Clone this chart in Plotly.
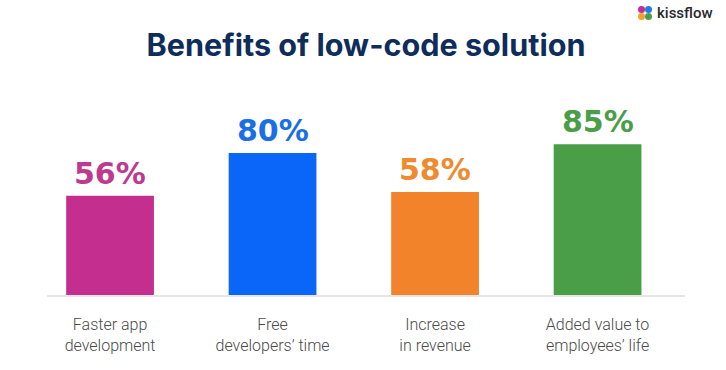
import plotly.graph_objects as go

categories = ["Faster app<br>development", "Free<br>developers’ time", "Increase<br>in revenue", "Added value to<br>employees’ life"]
values = [56, 80, 58, 85]
bar_colors = ["#C42E8F", "#0A66F8", "#F3832A", "#4B9E48"]
text_colors = ["#BE3A8F", "#1A6FE8", "#F08A2E", "#4A9E48"]
title = "Benefits of low-code solution"

W, H = 726, 370
fig = go.Figure()
fig.add_trace(go.Bar(
    x=list(range(len(categories))), y=values, marker_color=bar_colors,
    width=0.54, marker_line_width=0, hoverinfo="skip",
))

for i, (v, c) in enumerate(zip(values, text_colors)):
    fig.add_annotation(x=i, y=v, text=f"{v}%", showarrow=False, yanchor="bottom",
                       yshift=3, font=dict(family="DejaVu Sans", size=30, color=c, weight="bold"))

fig.update_layout(
    width=W, height=H, paper_bgcolor="white", plot_bgcolor="white",
    margin=dict(l=47, r=41, t=100, b=75),
    showlegend=False,
    title=dict(text=title, x=0.5, xref="paper", xanchor="center", y=0.878, yanchor="middle",
               font=dict(family="Inter", size=30.6, color="#0E2D5B", weight="bold")),
    xaxis=dict(tickvals=list(range(len(categories))), ticktext=categories, range=[-0.388, 3.538],
               showgrid=False, zeroline=False, showline=True, linecolor="#E6E6E6", linewidth=1.5,
               ticks="", ticklabelstandoff=14, fixedrange=True,
               tickfont=dict(family="Roboto", size=16, color="#4A4A4A", weight=300)),
    yaxis=dict(range=[0, 109.9], visible=False, showgrid=False, zeroline=False, fixedrange=True),
)

# logo
fig.add_annotation(xref="paper", yref="paper", x=(655 - 47) / 638, y=(295 - 13) / 195,
                   xanchor="left", yanchor="middle", text="kissflow", showarrow=False,
                   font=dict(family="Roboto", size=15, color="#2A2A2A", weight=500))
petals = [((638, 6), (645, 13), "#C42E8F"), ((645, 6), (652, 13), "#1E7BF0"),
          ((638, 13), (645, 20), "#F3A12A"), ((645, 13), (652, 20), "#4B9E48")]
for (x0, y0), (x1, y1), col in petals:
    fig.add_shape(type="circle", xref="paper", yref="paper",
                  x0=(x0 - 47) / 638, x1=(x1 - 47) / 638,
                  y0=(295 - y1) / 195, y1=(295 - y0) / 195,
                  fillcolor=col, line_width=0, layer="above")

fig.write_html("out.html", config={"displayModeBar": False, "staticPlot": False},
               post_script="document.body.style.margin='0';document.body.style.overflow='hidden';")
